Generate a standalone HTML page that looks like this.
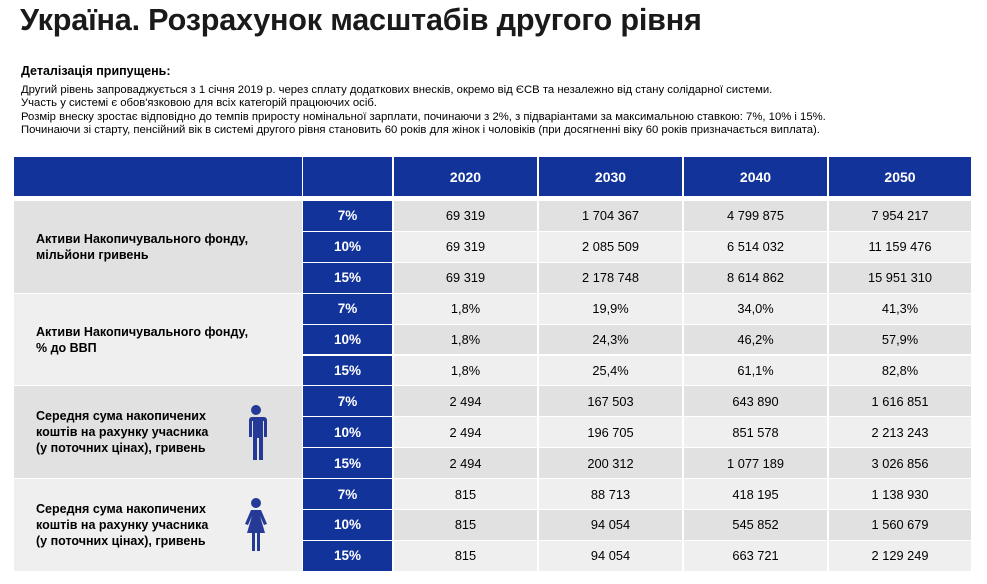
<!DOCTYPE html>
<html><head><meta charset="utf-8"><style>
body{margin:0;width:987px;height:584px;background:#fff;font-family:"Liberation Sans","DejaVu Sans",sans-serif;position:relative;overflow:hidden;color:#000}
h1{position:absolute;left:20px;top:3px;margin:0;font-size:30.6px;font-weight:bold;color:#1a1a1a;letter-spacing:-0.2px}
.sub{position:absolute;left:21px;top:64px;font-size:12.5px;font-weight:bold}
.txt{position:absolute;left:21px;top:84px;font-size:11.3px;line-height:13.3px}
.c{position:absolute;box-sizing:border-box;display:flex;align-items:center;justify-content:center;font-size:12.8px}
.b{background:#12339a;color:#fff;font-weight:bold;font-size:13.5px}
.d{background:#e1e1e1}.l{background:#efefef}
.lab{justify-content:flex-start;padding-left:22px;font-weight:bold;font-size:12.5px;line-height:16px}
</style></head><body>
<h1>Україна. Розрахунок масштабів другого рівня</h1>
<div class="sub">Деталізація припущень:</div>
<div class="txt">Другий рівень запроваджується з 1 січня 2019 р. через сплату додаткових внесків, окремо від ЄСВ та незалежно від стану солідарної системи.<br>Участь у системі є обов'язковою для всіх категорій працюючих осіб.<br>Розмір внеску зростає відповідно до темпів приросту номінальної зарплати, починаючи з 2%, з підваріантами за максимальною ставкою: 7%, 10% і 15%.<br>Починаючи зі старту, пенсійний вік в системі другого рівня становить 60 років для жінок і чоловіків (при досягненні віку 60 років призначається виплата).</div>
<div id="t"></div>
<script>
var xs=[[14,288],[303,89],[394,143],[539,143],[684,143],[829,142]];
var h='';
xs.forEach(function(c,i){h+='<div class="c b" style="left:'+c[0]+'px;top:157px;width:'+c[1]+'px;height:39px;font-size:14px">'+(i>1?[2020,2030,2040,2050][i-2]:'')+'</div>';});
var data=[
["69 319","1 704 367","4 799 875","7 954 217"],["69 319","2 085 509","6 514 032","11 159 476"],["69 319","2 178 748","8 614 862","15 951 310"],
["1,8%","19,9%","34,0%","41,3%"],["1,8%","24,3%","46,2%","57,9%"],["1,8%","25,4%","61,1%","82,8%"],
["2 494","167 503","643 890","1 616 851"],["2 494","196 705","851 578","2 213 243"],["2 494","200 312","1 077 189","3 026 856"],
["815","88 713","418 195","1 138 930"],["815","94 054","545 852","1 560 679"],["815","94 054","663 721","2 129 249"]];
var labels=["Активи Накопичувального фонду,<br>мільйони гривень","Активи Накопичувального фонду,<br>% до ВВП","Середня сума накопичених<br>коштів на рахунку учасника<br>(у поточних цінах), гривень","Середня сума накопичених<br>коштів на рахунку учасника<br>(у поточних цінах), гривень"];
var pct=["7%","10%","15%"];
var rh=30.9;
for(var g=0;g<4;g++){
 var gy=201+g*3*rh;
 h+='<div class="c lab '+(g%2?'l':'d')+'" style="left:14px;top:'+gy+'px;width:288px;height:'+(3*rh-1)+'px">'+labels[g]+'</div>';
 for(var r=0;r<3;r++){
  var i=g*3+r,y=gy+r*rh,cl=(i%2?'l':'d');
  h+='<div class="c b" style="left:303px;top:'+y+'px;width:89px;height:'+(rh-1)+'px">'+pct[r]+'</div>';
  for(var k=0;k<4;k++)h+='<div class="c '+cl+'" style="left:'+xs[k+2][0]+'px;top:'+y+'px;width:'+xs[k+2][1]+'px;height:'+(rh-1)+'px">'+data[i][k]+'</div>';
 }
}
document.getElementById('t').innerHTML=h;
</script>
<svg style="position:absolute;left:244px;top:404px" width="24" height="60" viewBox="0 0 24 60"><circle cx="12" cy="6" r="5" fill="#253a96"/><path d="M4 13h16a3 3 0 0 1 3 3v17h-3v-16h-1v39h-4v-22h-2v22h-4v-39h-1v16h-3v-17a3 3 0 0 1 3-3z" fill="#253a96"/></svg>
<svg style="position:absolute;left:242px;top:498px" width="28" height="56" viewBox="0 0 28 56"><circle cx="14" cy="5" r="5" fill="#253a96"/><path d="M9 12h10l6 14-3 1-4-9 5 17h-5v18h-3v-18h-2v18h-3v-18h-5l5-17-4 9-3-1z" fill="#253a96"/></svg>
</body></html>
